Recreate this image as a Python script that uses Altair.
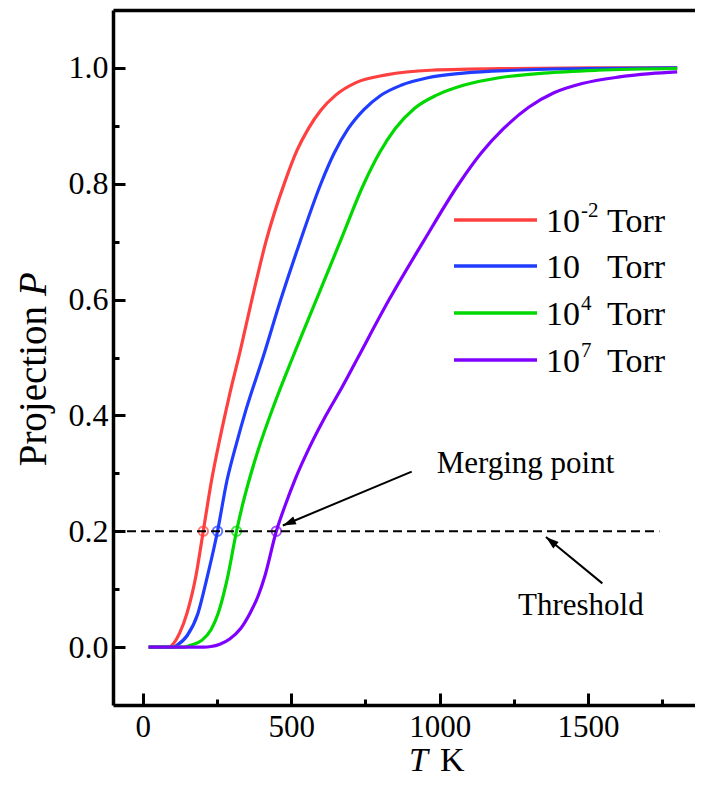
import altair as alt
import pandas as pd

# ---------------- data ----------------
series = ["1e-2", "1e1", "1e4", "1e7"]
colors = ["#ff4040", "#1f3cff", "#00d800", "#7f00ff"]

T_red = [20, 90, 100, 125, 150, 180, 204, 232, 260, 290, 330, 370, 415, 480, 520, 560, 600, 650, 720, 820, 970, 1250, 1500, 1800]
P_red = [0, 0, 0.004, 0.025, 0.06, 0.125, 0.2, 0.288, 0.36, 0.43, 0.515, 0.605, 0.7, 0.805, 0.858, 0.897, 0.927, 0.953, 0.975, 0.988, 0.996, 0.999, 1.0, 1.0]

T_blue = [20, 105, 115, 150, 186, 215, 252, 284, 315, 348, 405, 465, 530, 600, 645, 692, 745, 800, 870, 960, 1080, 1250, 1500, 1800]
P_blue = [0, 0, 0.003, 0.02, 0.058, 0.116, 0.2, 0.288, 0.35, 0.41, 0.5, 0.6, 0.7, 0.8, 0.853, 0.895, 0.928, 0.952, 0.97, 0.983, 0.991, 0.996, 0.999, 1.0]

T_green = [20, 140, 160, 200, 230, 254, 284, 316, 335, 355, 390, 440, 505, 585, 665, 745, 797, 850, 915, 990, 1080, 1200, 1350, 1530, 1800]
P_green = [0, 0, 0.003, 0.012, 0.03, 0.058, 0.116, 0.2, 0.243, 0.282, 0.342, 0.415, 0.5, 0.6, 0.7, 0.8, 0.853, 0.895, 0.93, 0.953, 0.97, 0.983, 0.991, 0.996, 0.999]

T_purple = [20, 205, 230, 260, 293, 330, 361, 390, 411, 450, 480, 512, 560, 615, 675, 725, 830, 945, 1065, 1140, 1215, 1300, 1385, 1480, 1600, 1710, 1800]
P_purple = [0, 0, 0.001, 0.005, 0.014, 0.032, 0.058, 0.09, 0.122, 0.2, 0.245, 0.288, 0.343, 0.398, 0.452, 0.5, 0.6, 0.7, 0.8, 0.853, 0.895, 0.932, 0.957, 0.973, 0.984, 0.99, 0.993]

# threshold crossings (merging points)
T_cross = [204, 252, 316, 450]
threshold = 0.2

x_major = [0, 500, 1000, 1500]
x_minor = [250, 750, 1250, 1750]
y_major = [0.0, 0.2, 0.4, 0.6, 0.8, 1.0]
y_minor = [0.1, 0.3, 0.5, 0.7, 0.9]

legend_base = ["10", "10", "10", "10"]
legend_sup = ["-2", "", "4", "7"]
legend_unit = "Torr"

# ---------------- tables ----------------
rows = []
for name, Ts, Ps in zip(series, [T_red, T_blue, T_green, T_purple], [P_red, P_blue, P_green, P_purple]):
    for t, p in zip(Ts, Ps):
        rows.append({"series": name, "T": t, "P": p})
df = pd.DataFrame(rows)
df_cross = pd.DataFrame({"series": series, "T": T_cross, "P": [threshold] * 4})
df_thr = pd.DataFrame({"T": [-100, 1740], "P": [threshold, threshold]})

# annotation geometry (data coordinates)
arrows = pd.DataFrame({
    "id": ["m", "m", "t", "t"],
    "T": [906, 472, 1548, 1358],
    "P": [0.303, 0.21, 0.11, 0.19],
})
heads = pd.DataFrame({"T": [472, 1358], "P": [0.21, 0.19], "ang": [247.3, 309.5]})
notes = pd.DataFrame({"T": [990, 1264], "P": [0.30, 0.055], "txt": ["Merging point", "Threshold"]})

FONT = "Liberation Serif"
xs = alt.Scale(domain=[-100, 1860], nice=False, zero=False)
ys = alt.Scale(domain=[-0.1, 1.1], nice=False, zero=False)
cs = alt.Scale(domain=series, range=colors)

common = dict(grid=False, labelFont=FONT, labelColor="black", tickColor="black", domainColor="black")

def ax(orient, **kw):
    d = dict(common)
    d.update(kw)
    return alt.Axis(orient=orient, **d)

lines = alt.Chart(df).mark_line(strokeWidth=3.2, interpolate="monotone").encode(
    x=alt.X("T:Q", scale=xs, axis=ax("bottom", values=x_major, format="d", offset=-12, tickSize=12,
                                     tickWidth=3, domain=False, labelFontSize=31, labelPadding=7,
                                     labelFlush=False, title=None)),
    y=alt.Y("P:Q", scale=ys, axis=ax("left", values=y_major, format=".1f", offset=-12, tickSize=12,
                                     tickWidth=3, domain=False, labelFontSize=32, labelPadding=5,
                                     title=None)),
    color=alt.Color("series:N", scale=cs, legend=None),
    detail="series:N",
)

circles = alt.Chart(df_cross).mark_point(shape="circle", filled=False, size=90, strokeWidth=2).encode(
    x=alt.X("T:Q", scale=xs, axis=ax("bottom", values=x_minor, offset=-6, tickSize=6, tickWidth=3,
                                     domain=False, labels=False, title=None)),
    y=alt.Y("P:Q", scale=ys, axis=ax("left", values=y_minor, offset=-6, tickSize=6, tickWidth=3,
                                     domain=False, labels=False, title=None)),
    color=alt.Color("series:N", scale=cs, legend=None),
)

thr = alt.Chart(df_thr).mark_line(color="black", strokeWidth=2, strokeDash=[9, 5]).encode(
    x=alt.X("T:Q", scale=xs, axis=ax("bottom", domainWidth=3.5, ticks=False, labels=False, title=None)),
    y=alt.Y("P:Q", scale=ys, axis=ax("left", domainWidth=3.5, ticks=False, labels=False, title=None)),
)

shafts = alt.Chart(arrows).mark_line(color="black", strokeWidth=2).encode(
    x=alt.X("T:Q", scale=xs, axis=ax("top", domainWidth=3.5, ticks=False, labels=False, title=None)),
    y=alt.Y("P:Q", scale=ys, axis=None),
    detail="id:N",
)

head_marks = alt.Chart(heads).mark_point(
    shape="M0,0L-0.42,1.3L0.42,1.3Z", filled=True, color="black", size=400, opacity=1
).encode(
    x=alt.X("T:Q", scale=xs, axis=None),
    y=alt.Y("P:Q", scale=ys, axis=None),
    angle=alt.Angle("ang:Q", scale=None),
)

note_marks = alt.Chart(notes).mark_text(
    font=FONT, fontSize=31, align="left", baseline="alphabetic", color="black"
).encode(
    x=alt.X("T:Q", scale=xs, axis=None),
    y=alt.Y("P:Q", scale=ys, axis=None),
    text="txt:N",
)

dummy = pd.DataFrame({"a": [0]})
extras = []
row_y = [210, 256, 303, 350]
for i in range(4):
    extras.append(alt.Chart(dummy).mark_rule(color=colors[i], strokeWidth=3.5).encode(
        x=alt.value(341), x2=alt.value(424), y=alt.value(row_y[i])))
    extras.append(alt.Chart(pd.DataFrame({"t": [legend_base[i]]})).mark_text(
        font=FONT, fontSize=34, align="left", baseline="alphabetic", color="black").encode(
        text="t:N", x=alt.value(433), y=alt.value(row_y[i] + 12)))
    if legend_sup[i]:
        extras.append(alt.Chart(pd.DataFrame({"t": [legend_sup[i]]})).mark_text(
            font=FONT, fontSize=21, align="left", baseline="alphabetic", color="black").encode(
            text="t:N", x=alt.value(468), y=alt.value(row_y[i] - 3)))
    extras.append(alt.Chart(pd.DataFrame({"t": [legend_unit]})).mark_text(
        font=FONT, fontSize=34, align="left", baseline="alphabetic", color="black").encode(
        text="t:N", x=alt.value(494), y=alt.value(row_y[i] + 12)))

# axis titles with italic symbols
extras.append(alt.Chart(pd.DataFrame({"t": ["Projection"]})).mark_text(
    font=FONT, fontSize=39, align="right", baseline="alphabetic", angle=270, color="black").encode(
    text="t:N", x=alt.value(-67), y=alt.value(296)))
extras.append(alt.Chart(pd.DataFrame({"t": ["P"]})).mark_text(
    font=FONT, fontSize=39, fontStyle="italic", align="left", baseline="alphabetic", angle=270,
    color="black").encode(text="t:N", x=alt.value(-67), y=alt.value(286)))
extras.append(alt.Chart(pd.DataFrame({"t": ["T"]})).mark_text(
    font=FONT, fontSize=34, fontStyle="italic", align="right", baseline="alphabetic", color="black").encode(
    text="t:N", x=alt.value(315), y=alt.value(761)))
extras.append(alt.Chart(pd.DataFrame({"t": ["K"]})).mark_text(
    font=FONT, fontSize=34, align="left", baseline="alphabetic", color="black").encode(
    text="t:N", x=alt.value(327), y=alt.value(761)))

chart = alt.layer(lines, circles, thr, shafts, head_marks, note_marks, *extras).resolve_axis(
    x="independent", y="independent"
).properties(
    width=582, height=695,
    autosize=alt.AutoSizeParams(type="none"),
    padding={"left": 105, "top": 2, "right": 0, "bottom": 73},
).configure_view(stroke=None).configure(background="white")

chart.save("out.html", embed_options={"renderer": "svg", "actions": False})
